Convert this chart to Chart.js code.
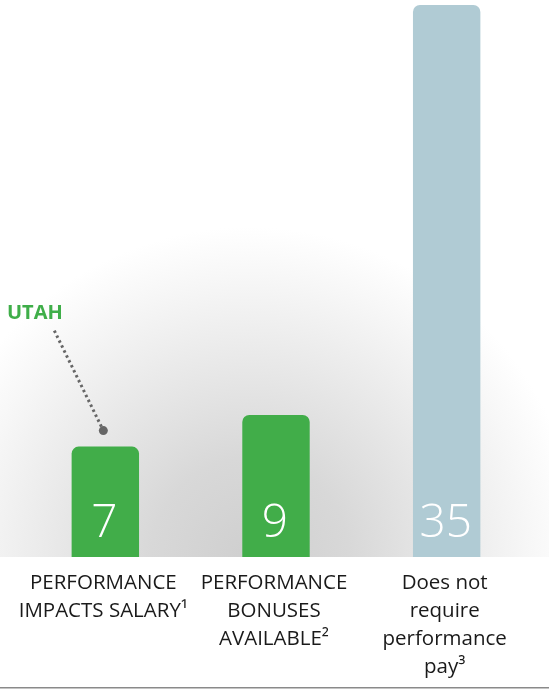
<!DOCTYPE html>
<html>
<head>
<meta charset="utf-8">
<script src="https://cdn.jsdelivr.net/npm/chart.js@4"></script>
<style>
  html, body { margin: 0; padding: 0; background: #fff; }
  canvas { display: block; }
</style>
</head>
<body>
<canvas id="payChart" width="549" height="689"></canvas>
<script>
// Categories (multi-line labels) and the state counts for each
const categories = [
    ['PERFORMANCE', 'IMPACTS SALARY\u00B9'],
    ['PERFORMANCE', 'BONUSES', 'AVAILABLE\u00B2'],
    ['Does not', 'require', 'performance', 'pay\u00B3']
];
const stateCounts = [7, 9, 35];
const barColors = ['#41ad49', '#41ad49', '#b0cbd4'];

const FONT = '"Open Sans", "Noto Sans", sans-serif';

// Soft grey glow behind the bars, white elsewhere, rule along the bottom
const backdrop = {
    id: 'backdrop',
    beforeDraw(chart) {
        const { ctx, chartArea } = chart;
        ctx.save();
        ctx.fillStyle = '#ffffff';
        ctx.fillRect(0, 0, chart.width, chart.height);
        const cx = 250, cy = chartArea.bottom;
        const g = ctx.createRadialGradient(cx, cy, 0, cx, cy, 330);
        g.addColorStop(0, '#cfcfcf');
        g.addColorStop(0.3, '#d8d8d8');
        g.addColorStop(0.6, '#e9e9e9');
        g.addColorStop(0.85, '#f7f7f7');
        g.addColorStop(1, '#ffffff');
        ctx.fillStyle = g;
        ctx.fillRect(0, 0, chart.width, chartArea.bottom);
        ctx.fillStyle = '#8a8a8a';
        ctx.fillRect(0, chart.height - 2, chart.width, 1.5);
        ctx.restore();
    }
};

// Big white count at the foot of each bar, plus the UTAH callout
const barText = {
    id: 'barText',
    afterDatasetsDraw(chart) {
        const { ctx, chartArea } = chart;
        const bars = chart.getDatasetMeta(0).data;
        ctx.save();
        ctx.fillStyle = '#ffffff';
        ctx.font = '300 46px ' + FONT;
        ctx.textAlign = 'center';
        ctx.textBaseline = 'alphabetic';
        bars.forEach((bar, i) => {
            ctx.fillText(String(stateCounts[i]), bar.x - 1, chartArea.bottom - 20);
        });

        // callout pointing at the first bar
        const b = bars[0];
        const tipX = b.x - 2, tipY = b.y - 16;
        ctx.strokeStyle = '#666666';
        ctx.lineWidth = 3;
        ctx.setLineDash([2.5, 3]);
        ctx.beginPath();
        ctx.moveTo(b.x - 51, b.y - 116);
        ctx.lineTo(tipX, tipY);
        ctx.stroke();
        ctx.setLineDash([]);
        ctx.fillStyle = '#666666';
        ctx.beginPath();
        ctx.arc(tipX, tipY, 4.5, 0, Math.PI * 2);
        ctx.fill();

        ctx.fillStyle = '#3fae49';
        ctx.font = 'bold 20px ' + FONT;
        ctx.textAlign = 'left';
        ctx.fillText('UTAH', 7, b.y - 128);
        ctx.restore();
    }
};

new Chart(document.getElementById('payChart'), {
    type: 'bar',
    data: {
        labels: categories,
        datasets: [{
            data: stateCounts,
            backgroundColor: barColors,
            borderSkipped: 'bottom',
            borderRadius: { topLeft: 7, topRight: 7 },
            barPercentage: 0.5,
            categoryPercentage: 0.79
        }]
    },
    options: {
        responsive: false,
        animation: false,
        layout: {
            padding: { top: 5, left: 20, right: 17, bottom: 0 }
        },
        plugins: {
            legend: { display: false },
            tooltip: { enabled: false }
        },
        scales: {
            x: {
                grid: { display: false, drawTicks: false },
                border: { display: false },
                // fixed band under the bars for the wrapped labels
                afterFit(scale) { scale.height = 132; },
                ticks: {
                    color: '#1a1a1a',
                    padding: 12,
                    labelOffset: -2,
                    maxRotation: 0,
                    autoSkip: false,
                    font: { family: FONT, size: 20.5, lineHeight: 1.37 }
                }
            },
            y: {
                display: false,
                min: 0,
                max: 35
            }
        }
    },
    plugins: [backdrop, barText]
});
</script>
</body>
</html>
